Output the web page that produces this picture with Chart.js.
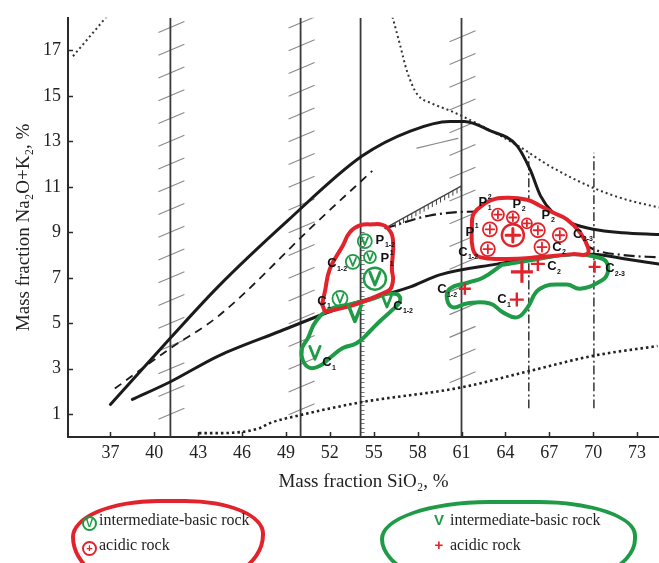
<!DOCTYPE html>
<html>
<head>
<meta charset="utf-8">
<script src="https://cdn.jsdelivr.net/npm/chart.js@4.4.1/dist/chart.umd.min.js"></script>
<style>
  html, body { margin: 0; padding: 0; background: #fff; overflow: hidden; }
  #wrap { position: relative; width: 659px; height: 563px; }
  #wrap canvas { position: absolute; left: 0; top: 0; }
  .blob { position: absolute; box-sizing: border-box; border: 4px solid; }
  .row { position: absolute; font: 16px "Liberation Serif", serif; color: #222; line-height: 24px; white-space: nowrap; }
  .ic { display: inline-block; box-sizing: border-box; width: 15px; height: 15px; border: 2px solid; border-radius: 50%;
        font: bold 11px "Liberation Sans", sans-serif; line-height: 11px; text-align: center; vertical-align: -2px; margin-right: 2px; }
  .g { color: #1f9b47; }
  .r { color: #e3232b; }
  .sym { display: inline-block; width: 14px; font: bold 15px "Liberation Sans", sans-serif; text-align: center; }
</style>
</head>
<body>
<div id="wrap">
  <canvas id="c" width="659" height="563"></canvas>
  <div class="blob" style="left:71px;top:499px;width:194px;height:92px;border-color:#e3232b;border-radius:46% 42% 48% 40% / 42% 38% 62% 60%;"></div>
  <div class="blob" style="left:380px;top:500px;width:257px;height:92px;border-color:#1f9b47;border-radius:44% 40% 46% 46% / 44% 40% 60% 60%;"></div>
  <div class="row" style="left:82px;top:508px;"><span class="ic g">V</span>intermediate-basic rock</div>
  <div class="row" style="left:82px;top:533px;"><span class="ic r">+</span>acidic rock</div>
  <div class="row" style="left:432px;top:508px;"><span class="sym g">V</span> intermediate-basic rock</div>
  <div class="row" style="left:432px;top:533px;"><span class="sym r">+</span> acidic rock</div>
</div>
<script>
const xTicks = [37, 40, 43, 46, 49, 52, 55, 58, 61, 64, 67, 70, 73];
const yTicks = [1, 3, 5, 7, 9, 11, 13, 15, 17];

// main boundary curves
const upperX = [37, 41.1, 44.35, 49.1, 54.2, 57.5, 60.2, 61.2, 62.9, 64.8, 65.7, 66.4, 67.2, 68.5, 70, 72, 74.5];
const upperY = [1.43, 4.35, 6.6, 9.5, 12.35, 13.45, 13.87, 13.87, 13.48, 12.8, 11.74, 10.6, 9.9, 9.4, 9.13, 8.98, 8.9];
const lowerX = [38.5, 41.1, 44.4, 48.6, 53, 57.5, 59.5, 63.4, 67, 70, 72, 74.5];
const lowerY = [1.65, 2.43, 3.57, 4.65, 5.75, 6.6, 7.13, 7.6, 7.95, 8.04, 7.85, 7.6];
const dashX = [37.3, 41.1, 44.35, 51.2, 54.9];
const dashY = [2.13, 3.9, 5.3, 9.5, 11.7];
const thinX = [57.95, 60.75];
const thinY = [12.7, 13.13];
const rulerX = [55.76, 61.0];
const rulerY = [9.17, 11.04];
const dashDotX = [55.76, 58.84, 62.05, 64.5, 66.4, 68.3, 70, 72, 74.5];
const dashDotY = [9.17, 9.74, 9.91, 9.9, 9.75, 9.0, 8.26, 8.0, 7.9];
const dotTLX = [34.44, 36.9];
const dotTLY = [16.74, 18.6];
const dotTRX = [56.1, 56.79, 57.27, 57.95, 59.04, 60.2, 61.1, 62.46, 64.8, 67.04, 69.98, 72.3, 74.5];
const dotTRY = [18.9, 17.26, 16.09, 15.09, 14.65, 14.35, 14.09, 13.65, 12.83, 11.91, 10.96, 10.43, 10.09];
const dotBX = [43.05, 44.5, 47.2, 47.9, 49.95, 54.05, 54.9, 60.9, 65.7, 70, 74.4];
const dotBY = [0.17, 0.17, 0.39, 0.61, 0.96, 1.52, 1.61, 2.17, 2.91, 3.57, 4.0];
const solidVerticals = [41.1, 50.0, 54.1, 61.0];
const dashDotVerticals = [65.6, 70.05];
const vTop = 18.43, dvBottom = 1.26, dvTop = 12.5;

// hand-drawn outlines
const redLeftX = [51.46, 51.8, 55.9, 56.31, 56.24, 56.31, 55.9, 55.42, 54.94, 54.05, 53.37, 52.9, 52.0, 51.66];
const redLeftY = [5.83, 5.52, 6.39, 6.83, 7.39, 8.7, 9.22, 9.35, 9.35, 9.3, 9.0, 8.43, 7.39, 6.39];
const redRightX = [62.05, 62.94, 64.1, 65.47, 66.36, 67.25, 68.2, 69.09, 69.64, 69.57, 68.6, 66.36, 64.1, 62.26, 61.78, 61.71, 61.78];
const redRightY = [10.0, 10.39, 10.52, 10.43, 10.17, 9.87, 9.57, 9.0, 8.35, 8.04, 8.04, 7.91, 7.83, 7.91, 8.26, 9.3, 9.74];
const greenLeftX = [56.1, 56.65, 56.79, 56.31, 55.42, 54.74, 53.85, 52.89, 52.0, 51.32, 50.64, 50.16, 50.09, 50.5, 51.05, 51.99, 53.37, 54.74, 55.9];
const greenLeftY = [6.3, 6.26, 5.96, 5.61, 5.09, 4.65, 4.13, 3.91, 3.48, 3.13, 3.04, 3.35, 3.87, 4.35, 5.09, 5.61, 5.83, 6.04, 6.3];
const greenRightX = [63.76, 65.5, 68.6, 70.24, 70.9, 70.97, 70.43, 69.09, 68.2, 66.36, 65.47, 64.78, 63.83, 62.94, 61.37, 60.42, 60.0, 60.21, 61.37, 62.46];
const greenRightY = [7.57, 7.75, 8.04, 7.91, 7.7, 7.17, 6.83, 6.52, 6.7, 6.52, 5.65, 5.26, 5.48, 5.87, 5.87, 5.7, 6.09, 6.52, 6.78, 7.0];

// symbols
const circVX = [54.39, 53.57, 54.74, 55.08, 52.69];
const circVY = [8.61, 7.7, 7.91, 6.96, 6.09];
const circVR = [7, 7, 6, 11, 7.5];
const vX = [53.71, 55.9, 50.98];
const vY = [5.43, 5.96, 3.7];
const vSize = [16, 11, 13];
const circPX = [63.49, 64.51, 65.47, 66.22, 67.72, 62.94, 64.51, 62.8, 66.5];
const circPY = [9.78, 9.65, 9.39, 9.09, 8.87, 9.13, 8.87, 8.26, 8.35];
const circPR = [6, 6, 5, 7, 7, 7, 11, 7, 7.5];
const plusX = [65.13, 66.22, 70.1, 61.23, 64.78];
const plusY = [7.26, 7.61, 7.48, 6.52, 6.04];
const plusSize = [11, 7, 6, 6, 7];

// stratigraphic labels
const labelText = ['P', 'P', 'C', 'C', 'C', 'C', 'P', 'P', 'P', 'P', 'C', 'C', 'C', 'C', 'C', 'C', 'C'];
const labelSub = ['1-2', '1', '1-2', '1', '1-2', '1', '1', '2', '2', '', '1-2', '2-3', '2', '2', '2-3', '1-2', '1'];
const labelSup = ['', '1', '', '', '', '', '2', '', '', '1', '', '', '', '', '', '', ''];
const labelX = [55.42, 55.76, 52.14, 51.46, 56.65, 51.8, 62.46, 64.78, 66.77, 61.57, 61.1, 68.95, 67.52, 67.18, 71.14, 59.66, 63.76];
const labelY = [8.65, 7.83, 7.61, 5.96, 5.74, 3.26, 10.3, 10.22, 9.74, 9.0, 8.13, 8.91, 8.35, 7.48, 7.39, 6.48, 6.04];

const RED = '#e3232b', GREEN = '#1f9b47', INK = '#1b1b1b';

const pts = (xs, ys) => xs.map((v, i) => ({ x: v, y: ys[i] }));
const closed = (xs, ys) => { const p = pts(xs, ys); p.push(p[0]); return p; };

function line(data, opts) {
  return Object.assign({
    data, pointRadius: 0, fill: false, borderColor: INK, borderWidth: 3,
    cubicInterpolationMode: 'monotone', borderCapStyle: 'round', borderJoinStyle: 'round', order: 10
  }, opts);
}

const datasets = [];
solidVerticals.forEach(v => datasets.push(line([{ x: v, y: 0 }, { x: v, y: vTop }],
  { borderColor: '#3a3a3a', borderWidth: 1.8, tension: 0, borderCapStyle: 'butt', order: 20 })));
dashDotVerticals.forEach(v => datasets.push(line([{ x: v, y: dvBottom }, { x: v, y: dvTop }],
  { borderColor: '#333', borderWidth: 1.5, tension: 0, borderDash: [9, 3, 2, 3], borderCapStyle: 'butt', order: 20 })));
datasets.push(line(pts(dotTLX, dotTLY), { borderWidth: 2, borderDash: [2, 3], borderCapStyle: 'butt', borderColor: '#333', order: 15 }));
datasets.push(line(pts(dotTRX, dotTRY), { borderWidth: 2, borderDash: [2, 3], borderCapStyle: 'butt', borderColor: '#333', order: 15 }));
datasets.push(line(pts(dotBX, dotBY), { borderWidth: 2.6, borderDash: [2.5, 3], borderCapStyle: 'butt', borderColor: '#222', order: 15 }));
datasets.push(line(pts(dashX, dashY), { borderWidth: 1.8, borderDash: [8, 6], borderCapStyle: 'butt', order: 12 }));
datasets.push(line(pts(thinX, thinY), { borderWidth: 1.2, borderColor: '#888', order: 12 }));
datasets.push(line(pts(rulerX, rulerY), { borderWidth: 1.3, borderColor: '#444', tension: 0, order: 12 }));
datasets.push(line(pts(dashDotX, dashDotY), { borderWidth: 2.2, borderDash: [11, 4, 2, 4], borderCapStyle: 'butt', order: 12 }));
datasets.push(line(pts(upperX, upperY), { order: 8 }));
datasets.push(line(pts(lowerX, lowerY), { order: 8 }));
datasets.push(line(closed(greenLeftX, greenLeftY), { borderColor: GREEN, borderWidth: 4, tension: 0.45, cubicInterpolationMode: 'default', order: 4 }));
datasets.push(line(closed(greenRightX, greenRightY), { borderColor: GREEN, borderWidth: 4, tension: 0.45, cubicInterpolationMode: 'default', order: 4 }));
datasets.push(line(closed(redLeftX, redLeftY), { borderColor: RED, borderWidth: 4, tension: 0.45, cubicInterpolationMode: 'default', order: 3 }));
datasets.push(line(closed(redRightX, redRightY), { borderColor: RED, borderWidth: 4, tension: 0.45, cubicInterpolationMode: 'default',
  fill: 'shape', backgroundColor: '#fff', order: 3 }));

// hatch marks on the vertical lines, ruler ticks, symbols and labels
const decor = {
  id: 'decor',
  beforeDatasetsDraw(chart) {
    const { ctx, scales: { x, y }, chartArea: a } = chart;
    ctx.save();
    ctx.beginPath(); ctx.rect(a.left, a.top, a.right - a.left, a.bottom - a.top); ctx.clip();
    ctx.strokeStyle = '#8a8a8a'; ctx.lineWidth = 1.1;
    [[41.1, 1, 18], [50.0, 1.2, 18.2], [61.0, 2.6, 17.6]].forEach(([lx, from, to]) => {
      const px = x.getPixelForValue(lx);
      for (let v = from; v <= to + 0.01; v += 1) {
        const py = y.getPixelForValue(v);
        ctx.beginPath(); ctx.moveTo(px - 12, py + 5); ctx.lineTo(px + 14, py - 6); ctx.stroke();
      }
    });
    // small ruler ticks along the 54 line
    const rx = x.getPixelForValue(54.1);
    ctx.strokeStyle = '#777'; ctx.lineWidth = 1;
    for (let v = 0.2; v <= 9; v += 0.2) {
      const py = Math.round(y.getPixelForValue(v)) + 0.5;
      ctx.beginPath(); ctx.moveTo(rx, py); ctx.lineTo(rx + 4, py); ctx.stroke();
    }
    ctx.restore();
  },
  afterDatasetsDraw(chart) {
    const { ctx, scales: { x, y }, chartArea: a } = chart;
    const X = v => x.getPixelForValue(v), Y = v => y.getPixelForValue(v);
    ctx.save();
    // ticks hanging under the ruler line
    const x0 = X(rulerX[0]), y0 = Y(rulerY[0]), x1 = X(rulerX[1]), y1 = Y(rulerY[1]);
    const len = Math.hypot(x1 - x0, y1 - y0);
    ctx.strokeStyle = '#444'; ctx.lineWidth = 1;
    for (let d = 12; d < len; d += 4.7) {
      const px = x0 + (x1 - x0) * d / len, py = y0 + (y1 - y0) * d / len;
      ctx.beginPath(); ctx.moveTo(px, py); ctx.lineTo(px, py + 5); ctx.stroke();
    }
    ctx.lineCap = 'round'; ctx.lineJoin = 'round';
    const drawV = (cx, cy, s, w) => {
      ctx.lineWidth = w;
      ctx.beginPath();
      ctx.moveTo(cx - s * 0.4, cy - s * 0.5); ctx.lineTo(cx, cy + s * 0.5); ctx.lineTo(cx + s * 0.4, cy - s * 0.5);
      ctx.stroke();
    };
    const drawPlus = (cx, cy, s, w) => {
      ctx.lineWidth = w;
      ctx.beginPath();
      ctx.moveTo(cx - s, cy); ctx.lineTo(cx + s, cy); ctx.moveTo(cx, cy - s); ctx.lineTo(cx, cy + s);
      ctx.stroke();
    };
    ctx.strokeStyle = GREEN;
    circVX.forEach((v, i) => {
      const cx = X(v), cy = Y(circVY[i]), r = circVR[i];
      ctx.lineWidth = r > 9 ? 2.4 : 1.8;
      ctx.beginPath(); ctx.arc(cx, cy, r, 0, Math.PI * 2); ctx.stroke();
      drawV(cx, cy, r * 1.15, r > 9 ? 3 : 1.8);
    });
    vX.forEach((v, i) => drawV(X(v), Y(vY[i]), vSize[i], vSize[i] > 14 ? 3.5 : 2.8));
    ctx.strokeStyle = RED;
    circPX.forEach((v, i) => {
      const cx = X(v), cy = Y(circPY[i]), r = circPR[i];
      ctx.lineWidth = r > 9 ? 2.4 : 1.8;
      ctx.beginPath(); ctx.arc(cx, cy, r, 0, Math.PI * 2); ctx.stroke();
      drawPlus(cx, cy, r * 0.62, r > 9 ? 3 : 1.8);
    });
    ctx.lineCap = 'butt';
    plusX.forEach((v, i) => drawPlus(X(v), Y(plusY[i]), plusSize[i], plusSize[i] > 9 ? 3.2 : 2.4));
    // labels
    ctx.fillStyle = '#111';
    labelText.forEach((t, i) => {
      const px = X(labelX[i]), py = Y(labelY[i]);
      ctx.font = 'bold 13px "Liberation Sans", Arial, sans-serif';
      ctx.textAlign = 'center'; ctx.textBaseline = 'middle';
      ctx.fillText(t, px, py);
      ctx.font = 'bold 7px "Liberation Sans", Arial, sans-serif';
      ctx.textAlign = 'left';
      if (labelSub[i]) ctx.fillText(labelSub[i], px + 5, py + 5);
      if (labelSup[i]) ctx.fillText(labelSup[i], px + 5, py - 6);
    });
    ctx.restore();
  },
  afterDraw(chart) {
    const { ctx, scales: { x, y }, chartArea: a } = chart;
    ctx.save();
    ctx.strokeStyle = '#2a2a2a'; ctx.lineWidth = 1.5;
    xTicks.forEach(v => {
      const px = Math.round(x.getPixelForValue(v)) + 0.5;
      ctx.beginPath(); ctx.moveTo(px, a.bottom); ctx.lineTo(px, a.bottom - 5); ctx.stroke();
    });
    yTicks.forEach(v => {
      const py = Math.round(y.getPixelForValue(v)) + 0.5;
      ctx.beginPath(); ctx.moveTo(a.left, py); ctx.lineTo(a.left + 5, py); ctx.stroke();
    });
    ctx.restore();
  }
};

const serif = '"Liberation Serif", "Times New Roman", serif';

new Chart(document.getElementById('c'), {
  type: 'line',
  data: { datasets },
  options: {
    responsive: false,
    animation: false,
    events: [],
    layout: { padding: { top: 13, right: 0, bottom: 0, left: 0 } },
    plugins: { legend: { display: false }, tooltip: { enabled: false } },
    scales: {
      x: {
        type: 'linear', min: 34.1, max: 74.5,
        afterBuildTicks: s => { s.ticks = xTicks.map(v => ({ value: v })); },
        afterFit: s => { s.height = 126; },
        grid: { display: false, drawTicks: false },
        border: { display: true, color: '#2a2a2a', width: 2 },
        ticks: { autoSkip: false, maxRotation: 0, padding: 5, color: '#222', font: { family: serif, size: 18 } },
        title: { display: true, text: 'Mass fraction SiO₂, %', color: '#222', font: { family: serif, size: 19 },
                 padding: { top: 0, bottom: 70 } }
      },
      y: {
        type: 'linear', min: 0, max: 18.43,
        afterBuildTicks: s => { s.ticks = yTicks.map(v => ({ value: v })); },
        afterFit: s => { s.width = 68; },
        grid: { display: false, drawTicks: false },
        border: { display: true, color: '#2a2a2a', width: 2 },
        ticks: { padding: 7, color: '#222', font: { family: serif, size: 18 } },
        title: { display: true, text: 'Mass fraction Na₂O+K₂, %', color: '#222', font: { family: serif, size: 19 },
                 padding: { top: 13, bottom: 0 } }
      }
    }
  },
  plugins: [decor]
});
</script>
</body>
</html>
